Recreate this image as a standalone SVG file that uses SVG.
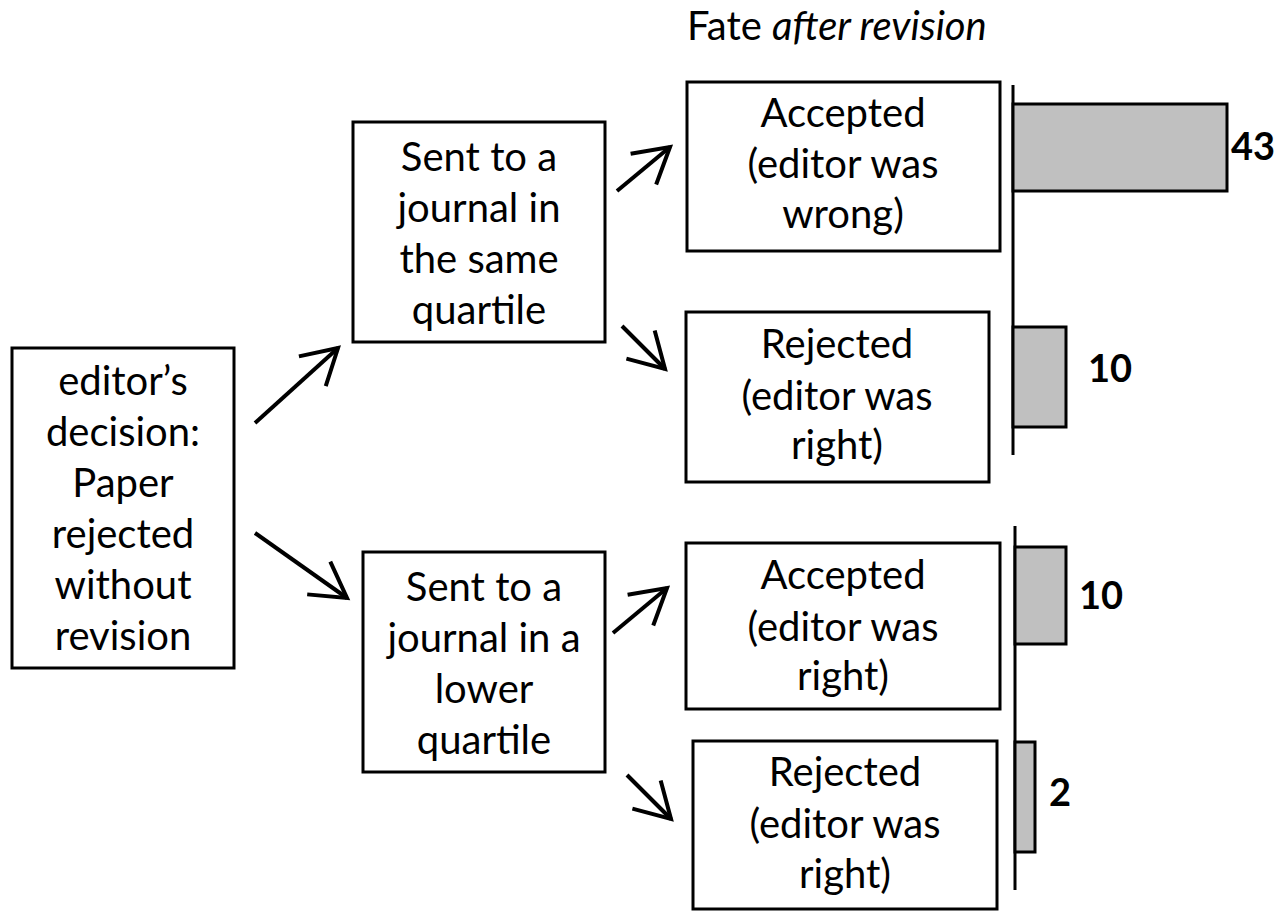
<svg xmlns="http://www.w3.org/2000/svg" width="1280" height="911" viewBox="0 0 1280 911">
<style>
.box{fill:#fff;stroke:#000;stroke-width:3}
.t{font-family:Lato,"Liberation Sans",sans-serif;font-size:40px;fill:#000;text-anchor:middle}
.n{font-family:Lato,"Liberation Sans",sans-serif;font-size:38px;font-weight:bold;fill:#000}
.bar{fill:#c0c0c0;stroke:#000;stroke-width:3}
.axis{stroke:#000;stroke-width:3}
.arr{stroke:#000;stroke-width:4;fill:none;marker-end:url(#head)}
</style>
<defs>
<marker id="head" markerUnits="userSpaceOnUse" viewBox="-44 -26 50 52" refX="0" refY="0" markerWidth="50" markerHeight="52" orient="auto" overflow="visible">
<path d="M-34.6,-20 L0,0 L-34.6,20" fill="none" stroke="#000" stroke-width="4" stroke-linejoin="miter"/>
</marker>
</defs>
<rect width="1280" height="911" fill="#fff"/>
<text x="687" y="40" font-family="Lato,'Liberation Sans',sans-serif" font-size="40">Fate <tspan font-style="italic">after revision</tspan></text>
<g id="n-root">
<rect class="box" x="12" y="348" width="222" height="320"/>
<text class="t" x="123" y="395">editor’s</text>
<text class="t" x="123" y="446">decision:</text>
<text class="t" x="123" y="497">Paper</text>
<text class="t" x="123" y="548">rejected</text>
<text class="t" x="123" y="599">without</text>
<text class="t" x="123" y="650">revision</text>
</g>
<g id="n-same">
<rect class="box" x="353" y="122" width="252" height="220"/>
<text class="t" x="479" y="171">Sent to a</text>
<text class="t" x="479" y="222">journal in</text>
<text class="t" x="479" y="273">the same</text>
<text class="t" x="479" y="324">quartile</text>
</g>
<g id="n-lower">
<rect class="box" x="363" y="552" width="242" height="220"/>
<text class="t" x="484" y="601">Sent to a</text>
<text class="t" x="484" y="652">journal in a</text>
<text class="t" x="484" y="703">lower</text>
<text class="t" x="484" y="754">quartile</text>
</g>
<g id="n-acc1">
<rect class="box" x="687" y="82" width="313" height="169"/>
<text class="t" x="843" y="127">Accepted</text>
<text class="t" x="843" y="178">(editor was</text>
<text class="t" x="843" y="228">wrong)</text>
</g>
<g id="n-rej1">
<rect class="box" x="686" y="312" width="303" height="170"/>
<text class="t" x="837" y="358">Rejected</text>
<text class="t" x="837" y="410">(editor was</text>
<text class="t" x="837" y="459">right)</text>
</g>
<g id="n-acc2">
<rect class="box" x="686" y="543" width="314" height="166"/>
<text class="t" x="843" y="589">Accepted</text>
<text class="t" x="843" y="641">(editor was</text>
<text class="t" x="843" y="690">right)</text>
</g>
<g id="n-rej2">
<rect class="box" x="693" y="741" width="304" height="168"/>
<text class="t" x="845" y="786">Rejected</text>
<text class="t" x="845" y="838">(editor was</text>
<text class="t" x="845" y="888">right)</text>
</g>
<g id="chart">
<line class="axis" x1="1013" y1="85" x2="1013" y2="455"/>
<line class="axis" x1="1015" y1="526" x2="1015" y2="890"/>
<rect class="bar" x="1013" y="104" width="214" height="87"/>
<rect class="bar" x="1013" y="327" width="53" height="100"/>
<rect class="bar" x="1015" y="547" width="51" height="97"/>
<rect class="bar" x="1015" y="742" width="20" height="110"/>
<text class="n" x="1231" y="160">43</text>
<text class="n" x="1088" y="382">10</text>
<text class="n" x="1079" y="609">10</text>
<text class="n" x="1049" y="806">2</text>
</g>
<g id="connectors">
<line class="arr" x1="255" y1="423" x2="338" y2="348"/>
<line class="arr" x1="255" y1="533" x2="347" y2="598"/>
<line class="arr" x1="617" y1="191" x2="670" y2="147"/>
<line class="arr" x1="622" y1="326" x2="665" y2="369"/>
<line class="arr" x1="613" y1="633" x2="667" y2="588"/>
<line class="arr" x1="627" y1="775" x2="671" y2="819"/>
</g>
</svg>
